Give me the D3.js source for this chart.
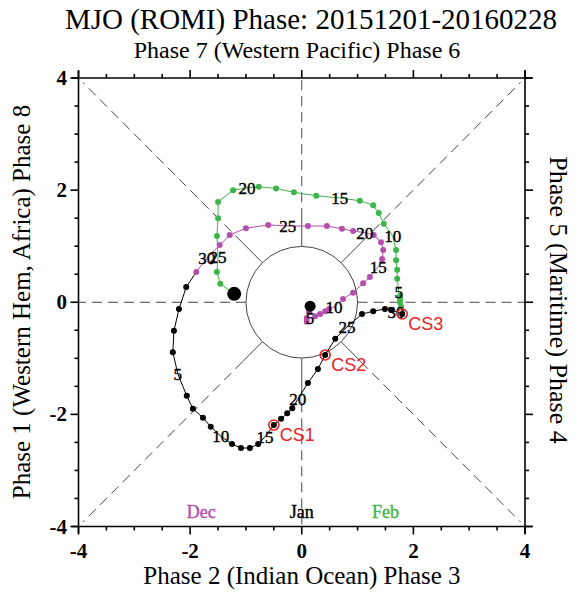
<!DOCTYPE html>
<meta charset="utf-8">
<script src="https://d3js.org/d3.v7.min.js"></script>
<style>
  body { margin: 0; background: #fff; }
  text { font-family: "Liberation Serif", "DejaVu Serif", serif; }
</style>
<body>
<div id="my_dataviz"></div>
<script>
// daily MJO (ROMI) points [x, y], one per day
var decPts = [
  [0.15,-0.07],[0.13,-0.17],[0.09,-0.28],[0.09,-0.35],[0.15,-0.28],
  [0.24,-0.25],[0.33,-0.21],[0.42,-0.16],[0.49,-0.12],[0.58,-0.08],
  [0.74,0.06],[0.92,0.17],[1.10,0.34],[1.22,0.45],[1.37,0.63],
  [1.44,0.77],[1.46,0.93],[1.42,1.07],[1.29,1.20],[1.13,1.24],
  [0.92,1.27],[0.72,1.31],[0.45,1.36],[0.11,1.36],[-0.25,1.36],
  [-0.60,1.38],[-1.00,1.32],[-1.29,1.20],[-1.47,1.02],[-1.70,0.79],
  [-1.89,0.54]
];
var janPts = [
  [-2.07,0.27],[-2.20,-0.12],[-2.29,-0.51],[-2.31,-0.89],[-2.22,-1.28],
  [-2.06,-1.67],[-1.95,-1.90],[-1.77,-2.06],[-1.63,-2.22],[-1.45,-2.39],
  [-1.25,-2.53],[-1.09,-2.60],[-0.93,-2.60],[-0.78,-2.53],[-0.66,-2.40],
  [-0.50,-2.19],[-0.37,-2.08],[-0.26,-1.98],[-0.17,-1.89],[-0.07,-1.73],
  [0.11,-1.44],[0.29,-1.19],[0.42,-0.94],[0.60,-0.65],[0.81,-0.44],
  [1.08,-0.21],[1.28,-0.16],[1.49,-0.12],[1.60,-0.14],[1.69,-0.17],
  [1.80,-0.21]
];
var febPts = [
  [1.78,-0.08],[1.76,0.00],[1.76,0.06],[1.76,0.11],[1.74,0.18],
  [1.71,0.42],[1.71,0.58],[1.69,0.75],[1.69,0.93],[1.63,1.18],
  [1.47,1.40],[1.38,1.59],[1.28,1.73],[1.04,1.81],[0.68,1.86],
  [0.26,1.90],[-0.14,1.96],[-0.46,2.03],[-0.77,2.06],[-0.98,2.04],
  [-1.23,2.00],[-1.50,1.79],[-1.50,1.50],[-1.52,1.18],[-1.50,0.81],
  [-1.52,0.54],[-1.46,0.33],[-1.21,0.15]
];
var monthNames = ["Dec", "Jan", "Feb"];
var monthColors = ["#b44fb0", "#000000", "#3db54a"];
var monthLabelX = [-1.8, 0, 1.5];
// case study days: [month index, day]
var caseDays = [[1, 16], [1, 23], [1, 31]];
var caseNames = ["CS1", "CS2", "CS3"];
var tickVals = [-4, -2, 0, 2, 4];

var W = 584, H = 592;
var svg = d3.select("#my_dataviz").append("svg")
    .attr("width", W).attr("height", H);

var x = d3.scaleLinear().domain([-4, 4]).range([78.5, 525]);
var y = d3.scaleLinear().domain([-4, 4]).range([526.5, 78]);

// titles
svg.append("text").attr("x", 311).attr("y", 29).attr("text-anchor", "middle")
    .style("font-size", "29px").text("MJO (ROMI) Phase: 20151201-20160228");
svg.append("text").attr("x", 297).attr("y", 58).attr("text-anchor", "middle")
    .style("font-size", "24px").text("Phase 7 (Western Pacific) Phase 6");
svg.append("text").attr("x", 302).attr("y", 584).attr("text-anchor", "middle")
    .style("font-size", "25px").text("Phase 2 (Indian Ocean) Phase 3");
svg.append("text").attr("text-anchor", "middle")
    .attr("transform", "translate(30,302)rotate(-90)")
    .style("font-size", "25px").text("Phase 1 (Western Hem, Africa) Phase 8");
svg.append("text").attr("text-anchor", "middle")
    .attr("transform", "translate(550,300)rotate(90)")
    .style("font-size", "26px").text("Phase 5 (Maritime) Phase 4");

// phase space lines
var guides = svg.append("g").attr("stroke", "#444").attr("fill", "none");
var dirs = [[1,0],[-1,0],[0,1],[0,-1],[1,1],[1,-1],[-1,1],[-1,-1]];
dirs.forEach(function(d) {
  var diag = d[0] !== 0 && d[1] !== 0;
  var u = diag ? Math.SQRT1_2 : 1;
  var horiz = d[1] === 0;
  var r0 = horiz ? 1 : 1.5;
  if (!horiz) {
    guides.append("line")
      .attr("x1", x(d[0]*u)).attr("y1", y(d[1]*u))
      .attr("x2", x(d[0]*u*1.5)).attr("y2", y(d[1]*u*1.5))
      .attr("stroke-width", 1);
  }
  var end = diag ? 3.92 : 4;
  guides.append("line")
    .attr("x1", x(d[0]*u*r0)).attr("y1", y(d[1]*u*r0))
    .attr("x2", x(d[0]*end)).attr("y2", y(d[1]*end))
    .attr("stroke-width", 1).attr("stroke-dasharray", "10,6");
});
guides.append("circle")
  .attr("cx", x(0)).attr("cy", y(0)).attr("r", x(1) - x(0))
  .attr("fill", "#fff").attr("stroke-width", 1);

// axes frame with outward ticks
var ax = svg.append("g").attr("stroke", "#000").attr("stroke-width", 1.6);
ax.append("line").attr("x1", x(-4) - 7).attr("x2", x(4) + 7).attr("y1", y(-4)).attr("y2", y(-4));
ax.append("line").attr("x1", x(-4) - 7).attr("x2", x(4) + 7).attr("y1", y(4)).attr("y2", y(4));
ax.append("line").attr("y1", y(-4) + 7).attr("y2", y(4) - 7).attr("x1", x(-4)).attr("x2", x(-4));
ax.append("line").attr("y1", y(-4) + 7).attr("y2", y(4) - 7).attr("x1", x(4)).attr("x2", x(4));
d3.range(-4, 4.01, 0.5).forEach(function(v) {
  var major = Math.abs(v % 2) < 1e-9;
  var len = major ? 8 : 4;
  ax.append("line").attr("x1", x(v)).attr("x2", x(v)).attr("y1", y(-4)).attr("y2", y(-4) + len);
  ax.append("line").attr("x1", x(v)).attr("x2", x(v)).attr("y1", y(4)).attr("y2", y(4) - len);
  ax.append("line").attr("y1", y(v)).attr("y2", y(v)).attr("x1", x(-4)).attr("x2", x(-4) - len);
  ax.append("line").attr("y1", y(v)).attr("y2", y(v)).attr("x1", x(4)).attr("x2", x(4) + len);
});
svg.selectAll(".xt").data(tickVals).enter().append("text")
  .attr("x", function(d) { return x(d); }).attr("y", 558)
  .attr("text-anchor", "middle").style("font-size", "21px").style("font-weight", "bold")
  .text(function(d) { return d; });
svg.selectAll(".yt").data(tickVals).enter().append("text")
  .attr("x", 67).attr("y", function(d) { return y(d) + 7; })
  .attr("text-anchor", "end").style("font-size", "21px").style("font-weight", "bold")
  .text(function(d) { return d; });

// month legend
svg.selectAll(".mon").data(monthNames).enter().append("text")
  .attr("x", function(d, i) { return x(monthLabelX[i]); })
  .attr("y", y(-3.75) + 6)
  .attr("text-anchor", "middle").style("font-size", "18px")
  .attr("fill", function(d, i) { return monthColors[i]; })
  .attr("stroke", function(d, i) { return monthColors[i]; }).attr("stroke-width", 0.4)
  .text(function(d) { return d; });

// trajectories; each month's line starts from previous month's last day
var months = [decPts, janPts, febPts];
var line = d3.line().x(function(d) { return x(d[0]); }).y(function(d) { return y(d[1]); });
var traj = svg.append("g");
months.forEach(function(pts, m) {
  var path = m > 0 ? [months[m-1][months[m-1].length - 1]].concat(pts) : pts;
  traj.append("path").attr("d", line(path)).attr("fill", "none")
    .attr("stroke", monthColors[m]).attr("stroke-width", 1);
});
months.forEach(function(pts, m) {
  traj.selectAll(null).data(pts.filter(function(d, i) {
      var day = i + 1;
      return day % 5 !== 0 && !(m === 0 && i === 0) && !(m === 2 && i === pts.length - 1);
    })).enter().append("circle")
    .attr("cx", function(d) { return x(d[0]); })
    .attr("cy", function(d) { return y(d[1]); })
    .attr("r", 3).attr("fill", monthColors[m]);
});
// start and end markers
traj.append("circle").attr("cx", x(decPts[0][0])).attr("cy", y(decPts[0][1])).attr("r", 5.5).attr("fill", "#000");
traj.append("circle").attr("cx", x(febPts[febPts.length-1][0])).attr("cy", y(febPts[febPts.length-1][1])).attr("r", 7).attr("fill", "#000");

// day labels every 5 days
months.forEach(function(pts, m) {
  traj.selectAll(null).data(pts.filter(function(d, i) { return (i + 1) % 5 === 0; }))
    .enter().append("text")
    .attr("x", function(d) { return x(d[0]); })
    .attr("y", function(d) { return y(d[1]) + 6; })
    .attr("text-anchor", "middle").style("font-size", "17px")
    .attr("stroke", "#000").attr("stroke-width", 0.4)
    .text(function(d) { return pts.indexOf(d) + 1; });
});

// case study markers
caseDays.forEach(function(c, i) {
  var p = months[c[0]][c[1] - 1];
  svg.append("circle").attr("cx", x(p[0])).attr("cy", y(p[1])).attr("r", 5)
    .attr("fill", "none").attr("stroke", "#e8231f").attr("stroke-width", 1.6);
  svg.append("text").attr("x", x(p[0]) + 6).attr("y", y(p[1]) + 16)
    .style("font-family", "'Liberation Sans', Arial, sans-serif").style("font-size", "18px")
    .attr("fill", "#e8231f").text(caseNames[i]);
});
</script>
</body>
